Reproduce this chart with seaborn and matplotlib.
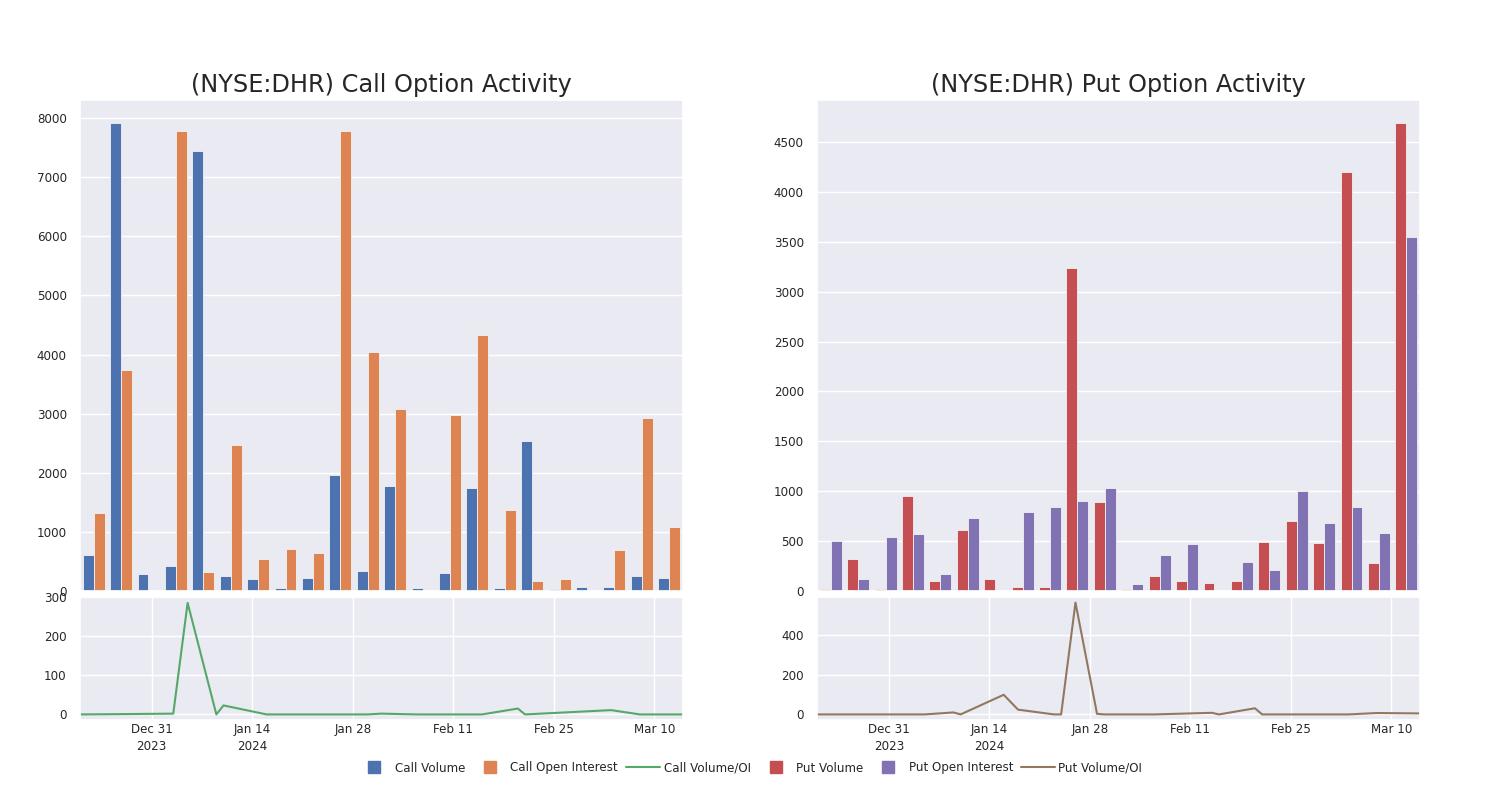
import numpy as np
import pandas as pd
import seaborn as sns
import matplotlib.pyplot as plt
from matplotlib.lines import Line2D

# dates of the option snapshots (shared by bars and lines)
dates = ['2023-12-21', '2023-12-28', '2024-01-03', '2024-01-05', '2024-01-09', '2024-01-10',
         '2024-01-16', '2024-01-18', '2024-01-23', '2024-01-24', '2024-01-26', '2024-01-29',
         '2024-01-30', '2024-02-01', '2024-02-06', '2024-02-14', '2024-02-15', '2024-02-20',
         '2024-02-21', '2024-03-04', '2024-03-08', '2024-03-14']

call_volume = [610, 7910, 285, 430, 7435, 260, 195, 55, 215, 1955, 333, 1768, 45, 305, 1734,
               50, 2531, 28, 60, 60, 254, 215]
call_oi = [1318, 3735, 0, 7775, 315, 2469, 545, 717, 640, 7775, 4051, 3085, 22, 2983, 4322,
           1367, 164, 203, 4, 700, 2932, 1085]
call_ratio = [0, 1, 2, 285, 0, 23, 0, 0, 0, 0, 0, 0, 0, 2, 0, 0, 0, 15, 0, 11, 0, 0]

put_volume = [17, 318, 20, 951, 100, 616, 117, 40, 40, 3241, 897, 23, 154, 100, 80, 100,
              489, 706, 479, 4202, 281, 4688]
put_oi = [502, 121, 542, 576, 174, 730, 4, 790, 840, 901, 1031, 73, 358, 472, 3, 288, 208,
          1007, 683, 847, 583, 3553]
put_ratio = [0, 0, 0, 0, 10, 0, 99, 24, 0, 0, 564, 3, 0, 0, 0, 8, 0, 31, 0, 0, 7, 5]

tick_dates = ['2023-12-31', '2024-01-14', '2024-01-28', '2024-02-11', '2024-02-25', '2024-03-10']
tick_labels = ['Dec 31\n2023', 'Jan 14\n2024', 'Jan 28', 'Feb 11', 'Feb 25', 'Mar 10']

sns.set_theme(style="darkgrid")
pal = sns.color_palette("deep")

fig = plt.figure(figsize=(15, 8), dpi=100)

def draw_side(left, title, vol, oi, ratio, names, colors, line_color):
    ax_top = fig.add_axes([left, 0.26125, 0.402, 0.61375])
    ax_bot = fig.add_axes([left, 0.1, 0.402, 0.15375])

    df = pd.DataFrame({
        'date': dates * 2,
        'value': vol + oi,
        'kind': [names[0]] * len(dates) + [names[1]] * len(dates),
    })
    sns.barplot(data=df, x='date', y='value', hue='kind', order=dates,
                palette=colors, saturation=1, legend=False, ax=ax_top,
                edgecolor='#f2f2f2', linewidth=0.6)
    ax_top.set_xticks([0, 5, 10, 15, 20])
    ax_top.set_xticklabels([])
    ax_top.set_xlabel('')
    ax_top.set_ylabel('')
    ax_top.tick_params(labelsize=8.6)
    ax_top.set_title(title, fontsize=17.3)

    ldf = pd.DataFrame({'date': pd.to_datetime(dates), 'ratio': ratio})
    sns.lineplot(data=ldf, x='date', y='ratio', color=line_color, linewidth=1.5, ax=ax_bot)
    ax_bot.set_xlim(ldf['date'].min(), ldf['date'].max())
    ax_bot.set_xticks(pd.to_datetime(tick_dates))
    ax_bot.set_xticklabels(tick_labels, linespacing=1.4)
    ax_bot.set_xlabel('')
    ax_bot.set_ylabel('')
    ax_bot.tick_params(labelsize=8.6)
    ax_bot.tick_params(axis='x', pad=-4)
    return ax_top, ax_bot

ct, cb = draw_side(0.0533, '(NYSE:DHR) Call Option Activity', call_volume, call_oi, call_ratio,
                   ['Call Volume', 'Call Open Interest'], [pal[0], pal[1]], pal[2])
cb.set_yticks([0, 100, 200, 300])
pt, pb = draw_side(0.5447, '(NYSE:DHR) Put Option Activity', put_volume, put_oi, put_ratio,
                   ['Put Volume', 'Put Open Interest'], [pal[3], pal[4]], pal[5])
pt.set_yticks(np.arange(0, 5000, 500))
pt.set_ylim(0, 4922)
pb.set_yticks([0, 200, 400])

handles = [
    Line2D([], [], marker='s', linestyle='', color=pal[0], markersize=9),
    Line2D([], [], marker='s', linestyle='', color=pal[1], markersize=9),
    Line2D([], [], color=pal[2], linewidth=1.5),
    Line2D([], [], marker='s', linestyle='', color=pal[3], markersize=9),
    Line2D([], [], marker='s', linestyle='', color=pal[4], markersize=9),
    Line2D([], [], color=pal[5], linewidth=1.5),
]
labels = ['Call Volume', 'Call Open Interest', 'Call Volume/OI',
          'Put Volume', 'Put Open Interest', 'Put Volume/OI']
fig.legend(handles, labels, loc='center', bbox_to_anchor=(0.5, 0.04), ncol=6,
           frameon=False, fontsize=8.6, handlelength=2.8, handletextpad=0.3, columnspacing=0.7)

plt.savefig('out.png')
